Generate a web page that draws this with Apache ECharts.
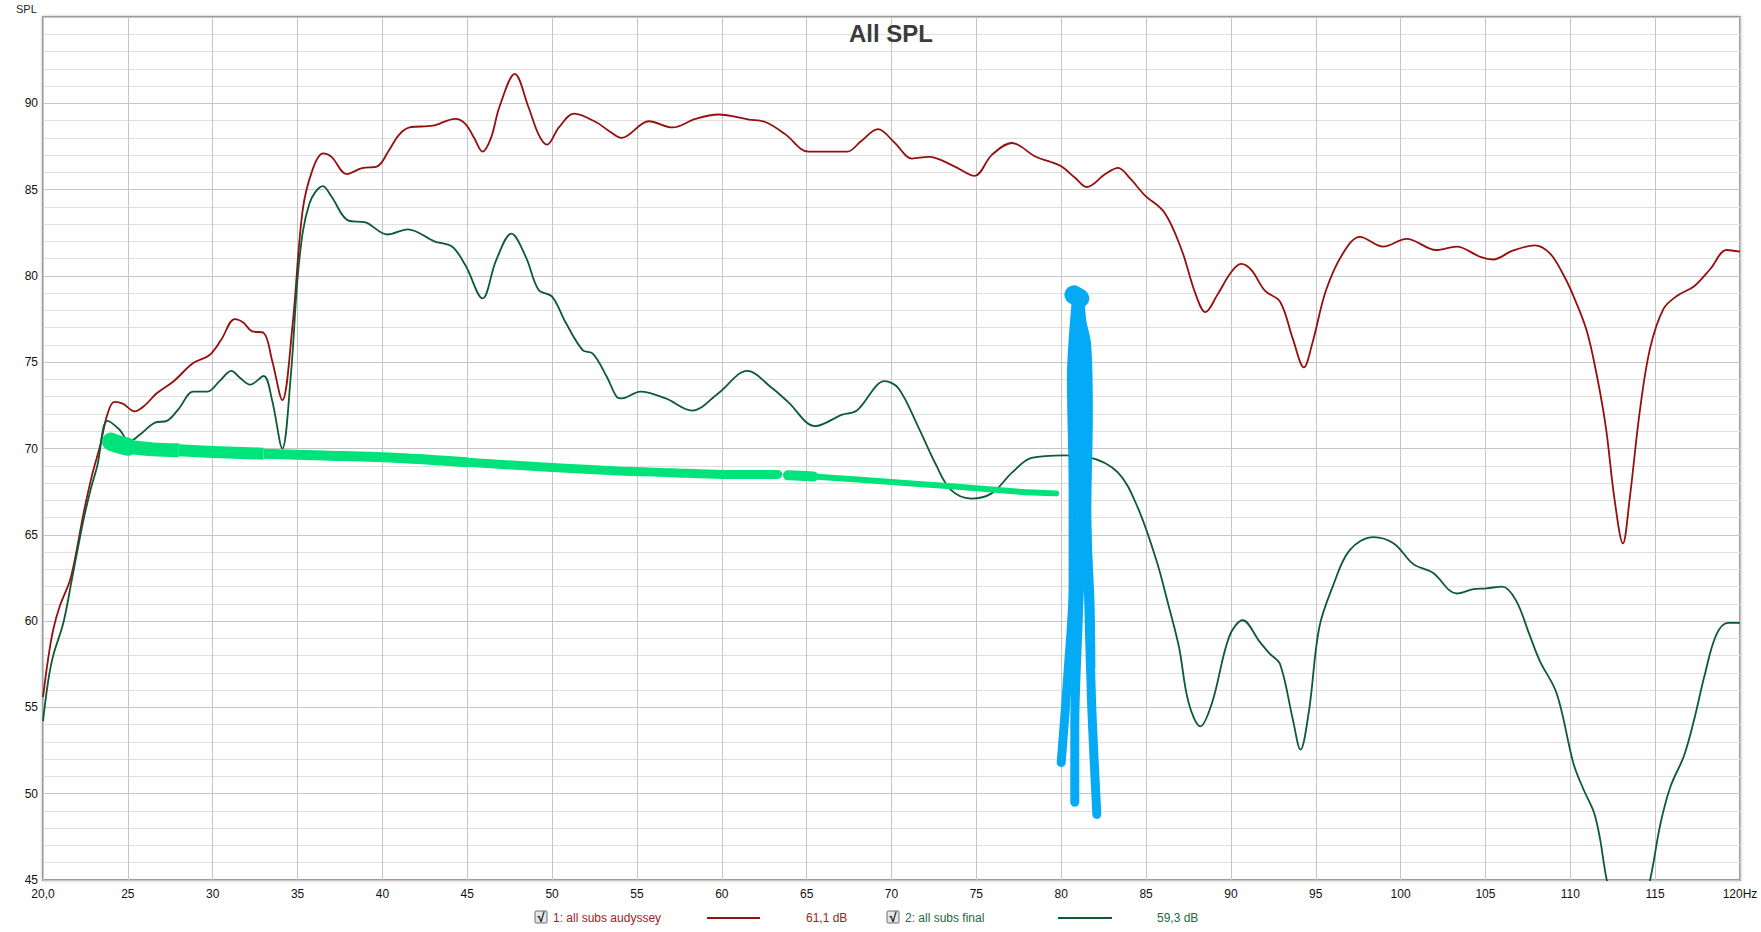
<!DOCTYPE html>
<html><head><meta charset="utf-8">
<script src="https://cdn.jsdelivr.net/npm/echarts@6/dist/echarts.min.js"></script>
<style>html,body{margin:0;padding:0;background:#fff}#c{width:1761px;height:932px}</style>
</head><body><div id="c"></div>
<script>
// ---- Tick labels ----
const xTicks = [20,25,30,35,40,45,50,55,60,65,70,75,80,85,90,95,100,105,110,115,120];
const yTicks = [45,50,55,60,65,70,75,80,85,90];

// ---- Series 1: all subs audyssey ----
const audysseyFreq = [20.0,20.3,20.6,21.0,21.6,22.0,22.4,22.9,23.35,23.8,24.2,24.7,25.4,26.0,26.7,27.7,28.85,29.8,30.5,31.3,31.8,32.3,33.0,33.5,34.1,34.7,35.3,35.9,36.5,37.0,37.9,38.8,39.7,40.4,41.0,41.6,42.96,44.3,44.9,45.4,45.9,46.4,46.9,47.8,48.6,49.2,49.7,50.4,51.3,52.6,53.35,54.1,55.7,57.1,58.45,59.8,61.6,62.6,63.75,65.1,66.3,67.4,68.2,69.2,70.2,71.2,72.2,73.7,74.9,75.9,77.1,78.5,79.4,80.0,80.8,81.5,82.6,83.35,84.1,84.9,86.1,87.1,87.9,88.5,89.2,90.0,90.6,91.2,92.0,92.9,93.65,94.3,94.8,95.6,96.6,97.6,98.97,100.35,102.1,103.3,104.7,105.45,106.6,107.9,108.8,109.6,110.2,110.96,111.55,112.1,112.6,113.1,113.5,114.1,114.7,115.5,116.3,117.3,118.25,119.2,120.0];
const audysseySpl  = [55.6,57.8,59.5,60.9,62.4,64.2,66.3,68.5,70.1,72.0,72.7,72.6,72.15,72.5,73.2,73.9,74.95,75.4,76.3,77.5,77.3,76.8,76.7,75.1,72.8,77.1,83.8,86.2,87.1,86.9,85.9,86.25,86.35,87.3,88.2,88.6,88.7,89.1,88.8,88.0,87.2,88.0,89.8,91.7,89.8,88.2,87.6,88.6,89.4,88.9,88.4,88.0,88.96,88.6,89.1,89.35,89.06,88.9,88.2,87.2,87.2,87.2,87.8,88.5,87.7,86.8,86.9,86.35,85.8,87.0,87.7,86.9,86.6,86.35,85.7,85.15,85.9,86.26,85.6,84.7,83.65,81.5,79.0,77.9,78.9,80.2,80.7,80.35,79.15,78.5,76.35,74.7,76.1,79.15,81.3,82.26,81.7,82.15,81.5,81.7,81.1,80.95,81.46,81.77,81.3,80.05,78.8,76.85,74.3,71.2,67.1,64.5,67.1,72.2,75.8,78.1,78.85,79.4,80.4,81.5,81.4];

// ---- Series 2: all subs final ----
const finalFreq = [20.0,20.3,20.6,21.2,21.7,22.35,22.8,23.2,23.8,24.5,25.1,25.7,26.6,27.3,28.0,28.85,29.7,30.4,31.1,31.6,32.2,33.0,33.5,34.1,34.6,35.1,35.7,36.5,37.0,38.0,39.0,40.3,41.5,43.06,44.1,44.9,45.9,46.7,47.6,48.45,49.2,50.0,50.8,51.8,52.4,53.2,53.8,54.1,55.2,56.7,58.25,59.8,61.5,62.96,63.9,65.5,67.1,67.96,69.6,70.4,71.6,72.6,73.5,74.7,75.9,77.1,78.25,80.2,81.6,83.35,84.5,85.6,86.3,86.94,87.5,88.2,88.9,89.9,90.7,91.7,92.3,92.9,93.65,94.1,94.6,95.2,96.0,96.99,98.4,99.6,100.75,101.9,103.3,104.3,105.06,106.0,106.8,107.6,108.2,109.2,110.2,110.8,111.4,111.75,112.15,113.4,114.7,115.3,115.9,116.7,117.3,117.9,118.6,119.3,120.0];
const finalSpl  = [54.2,56.5,58.0,59.9,62.4,65.7,67.6,69.0,71.6,71.1,70.4,70.8,71.5,71.6,72.3,73.3,73.3,73.9,74.5,74.1,73.7,74.2,72.8,70.0,74.2,80.9,84.2,85.2,84.6,83.2,83.1,82.4,82.7,82.0,81.7,80.6,78.7,80.9,82.45,81.1,79.2,78.8,77.3,75.7,75.5,74.2,73.0,72.9,73.3,72.9,72.2,73.2,74.5,73.5,72.7,71.3,71.96,72.2,73.9,73.5,71.2,69.1,67.6,67.1,67.4,68.6,69.45,69.6,69.5,68.6,66.6,63.55,61.0,58.5,55.3,53.9,55.3,59.1,60.05,58.8,58.1,57.5,54.3,52.55,54.8,59.6,62.0,64.1,64.87,64.5,63.3,62.8,61.6,61.85,61.9,62.0,61.2,59.2,57.7,55.8,51.7,50.2,48.9,47.4,45.0,40.0,45.0,48.2,50.4,52.2,54.3,56.8,59.2,59.9,59.9];

// ---- Hand-drawn annotations (bright green target line, tapering) ----
const greenMarkAFreq = [24.0,24.4,25.0];
const greenMarkASpl  = [70.4,70.25,70.1];
const greenMarkA2Freq = [25.0,26.5,28.0];
const greenMarkA2Spl  = [70.1,69.95,69.9];
const greenMarkA3Freq = [28.0,30.0,33.0];
const greenMarkA3Spl  = [69.9,69.8,69.7];
const greenMarkA4Freq = [33.0,36.5,41.0,45.0];
const greenMarkA4Spl  = [69.7,69.6,69.45,69.2];
const greenMarkBFreq = [45.0,50.0,53.9,57.0,60.0,63.3];
const greenMarkBSpl  = [69.2,68.9,68.7,68.6,68.5,68.5];
const greenMarkCFreq = [63.9,64.6,65.4];
const greenMarkCSpl  = [68.45,68.42,68.38];
const greenMarkDFreq = [65.4,68.0,71.6,75.0,77.5,79.7];
const greenMarkDSpl  = [68.38,68.2,67.95,67.7,67.5,67.4];

// ---- Hand-drawn annotations (blue scribble at ~80 Hz) ----
const blueMark1Freq = [80.9,80.6,80.7,80.7,80.4,80.0];
const blueMark1Spl  = [78.7,74.0,68.0,62.0,57.0,51.8];
const blueMark2Freq = [81.0,81.1,81.2,81.0,80.8,80.8];
const blueMark2Spl  = [78.7,72.0,66.0,60.0,54.0,49.5];
const blueMark3Freq = [81.1,81.5,81.5,81.6,81.8,82.1];
const blueMark3Spl  = [78.5,73.0,67.0,62.0,55.0,48.8];
const blueMark4Freq = [81.0,81.5,81.6,81.5,81.7,81.75];
const blueMark4Spl  = [78.0,76.0,72.0,66.0,61.0,57.3];
const blueMark5Freq = [81.1,81.55];
const blueMark5Spl  = [70.9,70.3];
const blueMarkTopFreq = [80.75,81.1];
const blueMarkTopSpl  = [78.9,78.7];

const zip = (xs, ys) => xs.map((x, i) => [x, ys[i]]);

const RED = '#950f0f', GREEN = '#0d5a35', BRIGHT = '#00e37a', BLUE = '#05aaf5';
const FONT = '"Liberation Sans", Arial, sans-serif';

function curve(name, data, color, width) {
  return { name, type: 'line', data, smooth: 0.35, symbol: 'none', clip: true,
    lineStyle: { color, width }, emphasis: { disabled: true } };
}
function mark(data, color, width, cap) {
  return { type: 'line', data, smooth: 0.3, symbol: 'none', clip: true, silent: true,
    lineStyle: { color, width, cap: cap || 'round', join: 'round' }, emphasis: { disabled: true } };
}

const chart = echarts.init(document.getElementById('c'), null, { renderer: 'svg' });
chart.setOption({
  backgroundColor: '#ffffff',
  animation: false,
  grid: { left: 43, right: 21, top: 17, bottom: 52, show: true, backgroundColor: '#fff',
    borderColor: '#9c9c9c', borderWidth: 2, shadowColor: 'rgba(0,0,0,0.25)', shadowBlur: 3 },
  xAxis: {
    type: 'value', min: 20, max: 120, interval: 5,
    axisLine: { show: false }, axisTick: { show: false },
    axisLabel: { margin: 8, fontSize: 12, color: '#111', fontFamily: FONT,
      formatter: v => v === xTicks[0] ? '20,0' : (v === xTicks[xTicks.length - 1] ? v + 'Hz' : String(v)) },
    splitLine: { show: true, lineStyle: { color: '#c6c6c6', width: 1 } }
  },
  yAxis: {
    type: 'value', min: 45, max: 95, interval: 5,
    axisLine: { show: false }, axisTick: { show: false },
    axisLabel: { margin: 5, fontSize: 12, color: '#111', fontFamily: FONT,
      formatter: v => yTicks.includes(v) ? String(v) : '' },
    splitLine: { show: true, lineStyle: { color: '#c6c6c6', width: 1 } },
    minorTick: { show: false, splitNumber: 5 },
    minorSplitLine: { show: true, lineStyle: { color: '#e0e0e0', width: 1 } }
  },
  series: [
    curve('1: all subs audyssey', zip(audysseyFreq, audysseySpl), RED, 1.8),
    curve('2: all subs final', zip(finalFreq, finalSpl), GREEN, 1.8),
    mark(zip(greenMarkAFreq, greenMarkASpl), BRIGHT, 18),
    mark(zip(greenMarkA2Freq, greenMarkA2Spl), BRIGHT, 14, 'butt'),
    mark(zip(greenMarkA3Freq, greenMarkA3Spl), BRIGHT, 12, 'butt'),
    mark(zip(greenMarkA4Freq, greenMarkA4Spl), BRIGHT, 10, 'butt'),
    mark(zip(greenMarkBFreq, greenMarkBSpl), BRIGHT, 9),
    mark(zip(greenMarkCFreq, greenMarkCSpl), BRIGHT, 10),
    mark(zip(greenMarkDFreq, greenMarkDSpl), BRIGHT, 6),
    mark(zip(blueMark1Freq, blueMark1Spl), BLUE, 9),
    mark(zip(blueMark2Freq, blueMark2Spl), BLUE, 9),
    mark(zip(blueMark3Freq, blueMark3Spl), BLUE, 9),
    mark(zip(blueMark4Freq, blueMark4Spl), BLUE, 9),
    mark(zip(blueMark5Freq, blueMark5Spl), BLUE, 9),
    mark(zip(blueMarkTopFreq, blueMarkTopSpl), BLUE, 19)
  ],
  graphic: [
    { type: 'text', x: 891, y: 21, z: 100, style: { text: 'All SPL', align: 'center', verticalAlign: 'top',
      font: 'bold 24px ' + FONT, fill: '#3c3c3c' } },
    { type: 'text', x: 16, y: 3, style: { text: 'SPL', font: '11px ' + FONT, fill: '#222' } },
    // legend item 1
    { type: 'rect', shape: { x: 535, y: 911, width: 12, height: 12, r: 1 },
      style: { fill: '#e6e6e6', stroke: '#6f6f6f', lineWidth: 1 } },
    { type: 'text', x: 541, y: 917.5, style: { text: '√', align: 'center', verticalAlign: 'middle',
      font: 'bold 13px ' + FONT, fill: '#111' } },
    { type: 'text', x: 553, y: 918, style: { text: '1: all subs audyssey', verticalAlign: 'middle',
      font: '12px ' + FONT, fill: '#a3201f' } },
    { type: 'line', shape: { x1: 707, y1: 918, x2: 760, y2: 918 }, style: { stroke: RED, lineWidth: 2 } },
    { type: 'text', x: 806, y: 918, style: { text: '61,1 dB', verticalAlign: 'middle',
      font: '12px ' + FONT, fill: '#a3201f' } },
    // legend item 2
    { type: 'rect', shape: { x: 887, y: 911, width: 12, height: 12, r: 1 },
      style: { fill: '#e6e6e6', stroke: '#6f6f6f', lineWidth: 1 } },
    { type: 'text', x: 893, y: 917.5, style: { text: '√', align: 'center', verticalAlign: 'middle',
      font: 'bold 13px ' + FONT, fill: '#111' } },
    { type: 'text', x: 905, y: 918, style: { text: '2: all subs final', verticalAlign: 'middle',
      font: '12px ' + FONT, fill: '#1d6a3e' } },
    { type: 'line', shape: { x1: 1058, y1: 918, x2: 1112, y2: 918 }, style: { stroke: GREEN, lineWidth: 2 } },
    { type: 'text', x: 1157, y: 918, style: { text: '59,3 dB', verticalAlign: 'middle',
      font: '12px ' + FONT, fill: '#1d6a3e' } }
  ]
});
</script>
</body></html>
